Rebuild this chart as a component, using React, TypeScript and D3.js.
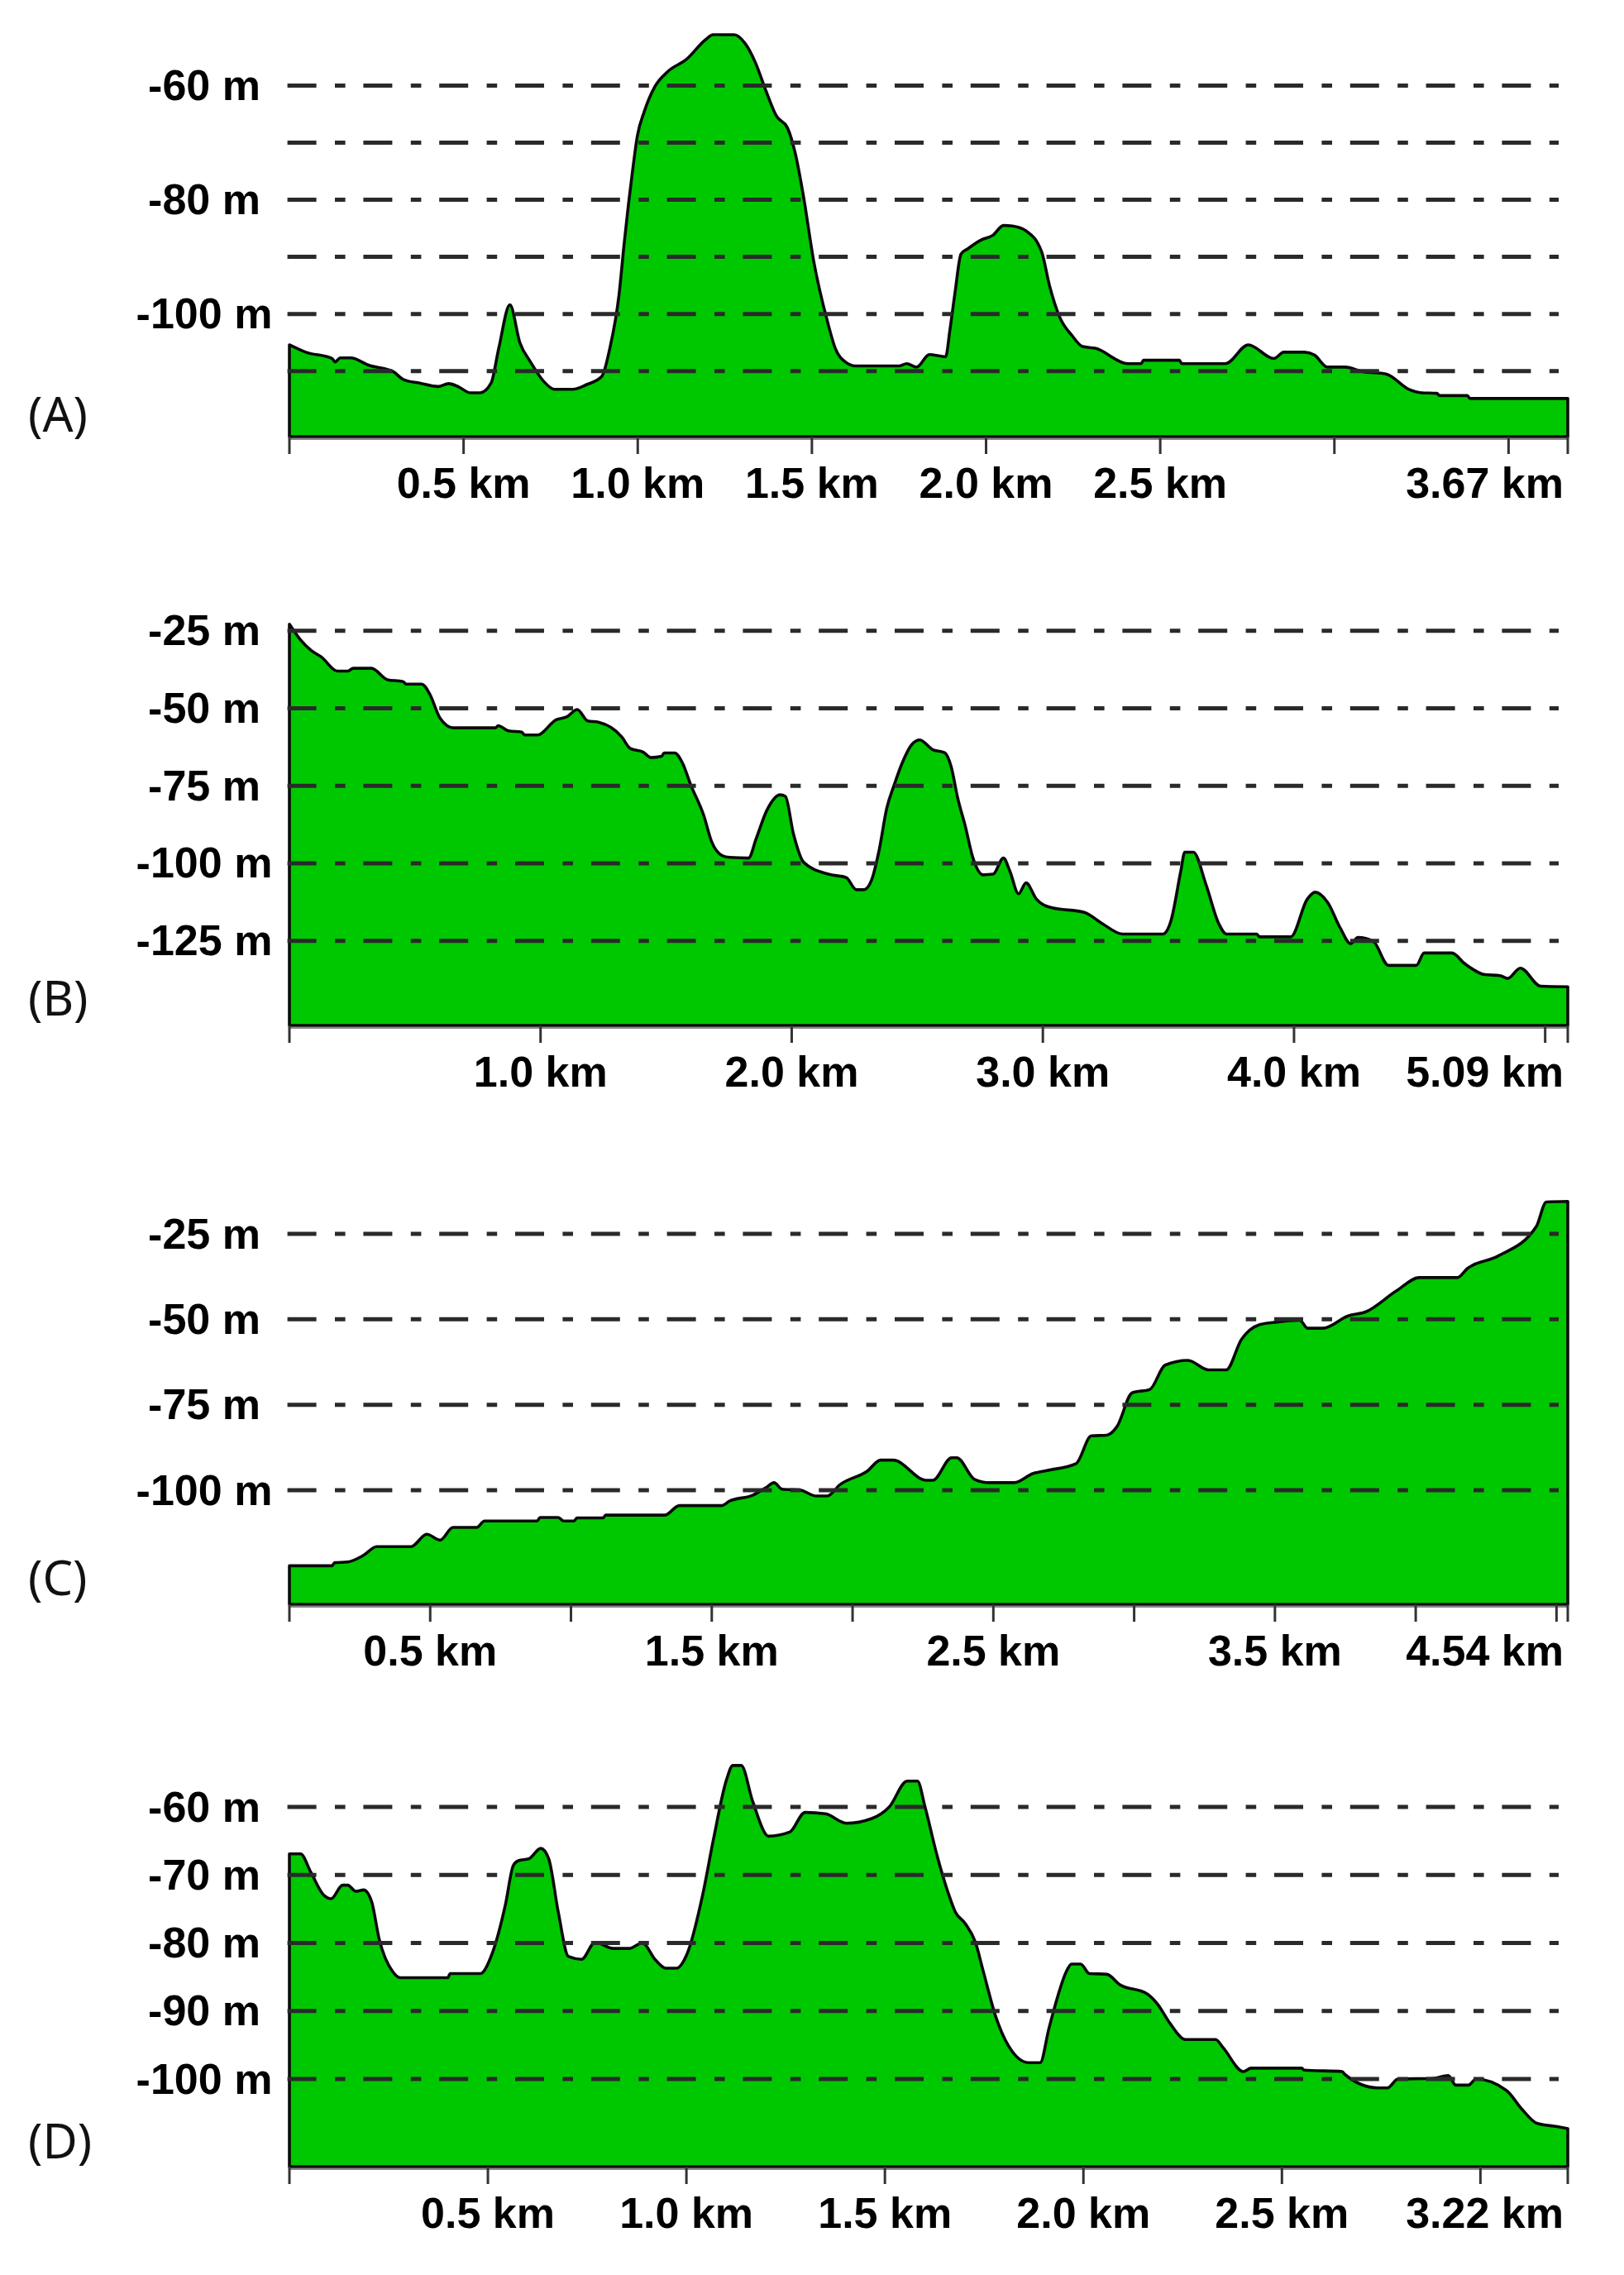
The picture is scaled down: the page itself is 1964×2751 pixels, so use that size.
import React from "react";
import * as d3 from "d3";

const aKm = [0,.047,.123,.131,.146,.176,.229,.298,.328,.374,.427,.457,.487,.518,.548,.579,.601,.633,.662,.692,.730,.761,.814,.852,.897,.920,.946,.961,.973,.984,.999,1.019,1.049,1.087,1.140,1.194,1.216,1.277,1.308,1.338,1.368,1.399,1.429,1.452,1.475,1.505,1.545,1.567,1.596,1.625,1.750,1.772,1.801,1.837,1.884,1.896,1.911,1.928,1.947,1.984,2.020,2.050,2.075,2.116,2.160,2.182,2.211,2.247,2.277,2.313,2.408,2.445,2.452,2.555,2.562,2.687,2.753,2.826,2.855,2.914,2.943,2.980,3.031,3.082,3.148,3.214,3.250,3.294,3.302,3.382,3.389,3.67];
const aElev = [-105.4,-106.7,-107.8,-108.4,-107.7,-107.7,-109,-110.1,-111.5,-112.1,-112.7,-112.2,-112.8,-113.8,-113.8,-112.1,-106,-98.4,-105.1,-108.4,-111.8,-113.2,-113.2,-112.4,-110.9,-106,-96.8,-87.7,-81,-75.5,-68.8,-64.5,-60.2,-57.5,-55.4,-52,-51.1,-51.1,-52.6,-56,-60.9,-65.4,-67.3,-71.8,-79.1,-90.7,-101.4,-106,-108.4,-109.1,-109.1,-108.7,-109.3,-107.1,-107.5,-102.9,-96.2,-89.5,-88.6,-87.1,-86.2,-84.5,-84.6,-85.5,-89.2,-95,-100.5,-103.8,-105.7,-106,-108.7,-108.7,-108.1,-108.1,-108.7,-108.7,-105.4,-107.8,-106.7,-106.7,-107.2,-109.3,-109.3,-110.1,-110.5,-113.2,-113.8,-113.9,-114.3,-114.3,-114.8,-114.8];

const bKm = [0,.044,.086,.128,.191,.233,.254,.327,.390,.453,.464,.527,.558,.600,.653,.821,.831,.873,.925,.936,.988,1.062,1.104,1.146,1.188,1.230,1.324,1.356,1.408,1.440,1.482,1.492,1.534,1.566,1.597,1.650,1.681,1.723,1.754,1.828,1.859,1.901,1.954,1.975,2.006,2.048,2.146,2.217,2.257,2.288,2.318,2.348,2.378,2.409,2.439,2.479,2.510,2.560,2.610,2.635,2.661,2.691,2.721,2.762,2.802,2.843,2.869,2.903,2.933,2.974,3.034,3.165,3.236,3.317,3.478,3.509,3.549,3.565,3.599,3.650,3.700,3.731,3.852,3.862,3.987,4.053,4.084,4.134,4.185,4.225,4.255,4.316,4.376,4.487,4.518,4.629,4.679,4.760,4.820,4.851,4.901,4.982,5.09];
const bElev = [-22.9,-27.9,-31.3,-33.5,-38,-38,-37.1,-37.1,-40.8,-41.4,-42.2,-42.2,-45.3,-53.2,-56.3,-56.3,-55.6,-57.3,-57.7,-58.6,-58.6,-53.7,-52.8,-50.4,-54.1,-54.5,-59.3,-62.9,-64.1,-65.9,-65.5,-64.4,-64.4,-67.8,-74.5,-84.6,-93,-97.5,-98.1,-98.3,-91.9,-82.9,-77.9,-78.4,-90.2,-99.7,-103.5,-104.6,-108.5,-108.5,-105.4,-95.8,-82.4,-74.5,-67.8,-61.6,-60.2,-63.3,-64.4,-68.9,-79,-88,-98.1,-103.7,-103.5,-98.3,-102.6,-109.8,-106.3,-111.5,-114.3,-115.8,-119.4,-122.8,-122.8,-118.8,-102.6,-96.4,-96.4,-107,-119.4,-122.8,-122.8,-123.7,-123.7,-111.5,-109.3,-112.6,-121,-125.9,-123.9,-125.2,-132.9,-132.9,-128.9,-128.9,-132.3,-135.9,-136.2,-137.1,-133.8,-139.6,-139.8];

const cKm = [0,.151,.161,.207,.264,.310,.432,.488,.535,.581,.665,.693,.880,.890,.955,.974,1.011,1.021,1.114,1.123,1.333,1.385,1.535,1.563,1.647,1.693,1.721,1.750,1.815,1.871,1.910,1.955,2.054,2.099,2.144,2.262,2.285,2.352,2.370,2.433,2.487,2.574,2.641,2.686,2.794,2.848,2.903,2.939,2.993,3.056,3.110,3.191,3.264,3.327,3.381,3.444,3.507,3.588,3.616,3.670,3.760,3.823,3.931,4.013,4.148,4.184,4.292,4.428,4.464,4.54];
const cElev = [-122.1,-122.1,-121.2,-121,-119,-116.5,-116.5,-112.9,-114.6,-110.9,-110.9,-109,-109,-108,-108,-109,-109,-108.1,-108.1,-107.3,-107.3,-104.5,-104.5,-103.2,-101.4,-99.2,-97.8,-99.7,-100,-101.7,-101.7,-98.4,-94.3,-91.2,-91.2,-97.1,-97.1,-90.5,-90.5,-96.8,-97.8,-97.8,-95.1,-94.3,-92.2,-84.1,-83.9,-81.4,-71.5,-70.5,-63.4,-62,-64.8,-64.8,-55.9,-51.6,-50.8,-50.3,-52.6,-52.6,-49,-47.8,-41.7,-37.8,-37.8,-35.1,-31.5,-22.9,-15.7,-15.5];

const dKm = [0,.028,.054,.087,.105,.134,.147,.167,.187,.207,.226,.260,.279,.399,.405,.481,.511,.544,.564,.577,.604,.633,.653,.677,.703,.736,.770,.816,.856,.889,.922,.948,.975,1.001,1.041,1.068,1.101,1.117,1.138,1.167,1.207,1.260,1.299,1.350,1.403,1.467,1.511,1.556,1.582,1.601,1.632,1.658,1.677,1.703,1.728,1.747,1.779,1.811,1.862,1.891,1.913,1.932,1.957,1.970,1.993,2.015,2.059,2.091,2.161,2.187,2.218,2.257,2.333,2.352,2.403,2.422,2.550,2.556,2.652,2.658,2.741,2.766,2.792,2.881,2.919,2.938,2.970,2.989,3.066,3.104,3.142,3.193,3.22];
const dElev = [-66.9,-66.9,-69.6,-73,-73.5,-71.5,-71.5,-72.4,-72.2,-73.9,-79.4,-84.2,-85.1,-85.1,-84.5,-84.5,-81.5,-74.4,-68.6,-67.9,-67.6,-66.1,-67.6,-75.4,-82,-82.4,-79.9,-80.8,-80.8,-80,-82.5,-83.7,-83.7,-81.7,-72.9,-64.8,-56,-53.9,-53.9,-59.2,-64.3,-63.7,-60.8,-61,-62.4,-61.7,-60,-56.2,-56.2,-60,-67.3,-72.4,-75.4,-77.2,-79.9,-84,-90.8,-95.1,-97.6,-97.6,-92.6,-88.5,-84.2,-83.1,-83.1,-84.5,-84.6,-86.1,-87.5,-89,-91.8,-94.2,-94.2,-95.4,-98.9,-98.4,-98.4,-98.7,-98.9,-99.3,-101.3,-101.3,-100,-99.9,-99.5,-100.9,-100.9,-100,-101.7,-104.4,-106.5,-107,-107.3];

const aGrid = [-60,-70,-80,-90,-100,-110];
const aGridLabels = ["-60 m","","-80 m","","-100 m",""];
const bGrid = [-25,-50,-75,-100,-125];
const bGridLabels = ["-25 m","-50 m","-75 m","-100 m","-125 m"];
const cGrid = [-25,-50,-75,-100];
const cGridLabels = ["-25 m","-50 m","-75 m","-100 m"];
const dGrid = [-60,-70,-80,-90,-100];
const dGridLabels = ["-60 m","-70 m","-80 m","-90 m","-100 m"];

const aTicks = [0,.5,1,1.5,2,2.5,3,3.5,3.67];
const aTickLabels = ["","0.5 km","1.0 km","1.5 km","2.0 km","2.5 km","","","3.67 km"];
const bTicks = [0,1,2,3,4,5,5.09];
const bTickLabels = ["","1.0 km","2.0 km","3.0 km","4.0 km","","5.09 km"];
const cTicks = [0,.5,1,1.5,2,2.5,3,3.5,4,4.5,4.54];
const cTickLabels = ["","0.5 km","","1.5 km","","2.5 km","","3.5 km","","","4.54 km"];
const dTicks = [0,.5,1,1.5,2,2.5,3,3.22];
const dTickLabels = ["","0.5 km","1.0 km","1.5 km","2.0 km","2.5 km","","3.22 km"];

const W = 1964, H = 2751;
const LEFT = 350, RIGHT = 1896, GRID_L = 347.6, GRID_R = 1885;
const LABEL_FONT = "'Liberation Sans', Arial, sans-serif";

type P = {
  name: string; km: number[]; elev: number[]; grid: number[]; gridLabels: string[];
  ticks: number[]; tickLabels: string[]; maxKm: number;
  topValue: number; topY: number; botValue: number; botY: number; baseY: number; nameY: number;
};

const panels: P[] = [
  { name: "(A)", km: aKm, elev: aElev, grid: aGrid, gridLabels: aGridLabels, ticks: aTicks, tickLabels: aTickLabels, maxKm: 3.67, topValue: -60, topY: 103.5, botValue: -110, botY: 448.7, baseY: 528, nameY: 522 },
  { name: "(B)", km: bKm, elev: bElev, grid: bGrid, gridLabels: bGridLabels, ticks: bTicks, tickLabels: bTickLabels, maxKm: 5.09, topValue: -25, topY: 762.7, botValue: -125, botY: 1137.7, baseY: 1240, nameY: 1228 },
  { name: "(C)", km: cKm, elev: cElev, grid: cGrid, gridLabels: cGridLabels, ticks: cTicks, tickLabels: cTickLabels, maxKm: 4.54, topValue: -25, topY: 1492, botValue: -100, botY: 1802, baseY: 1940, nameY: 1929 },
  { name: "(D)", km: dKm, elev: dElev, grid: dGrid, gridLabels: dGridLabels, ticks: dTicks, tickLabels: dTickLabels, maxKm: 3.22, topValue: -60, topY: 2185, botValue: -100, botY: 2514, baseY: 2620, nameY: 2610 },
];

function Panel({ p }: { p: P }) {
  const x = d3.scaleLinear().domain([0, p.maxKm]).range([LEFT, RIGHT]);
  const y = d3.scaleLinear().domain([p.topValue, p.botValue]).range([p.topY, p.botY]);
  const pts = p.km.map((k, i) => [k, p.elev[i]] as [number, number]);
  const area = d3.area<[number, number]>().x(d => x(d[0])).y0(p.baseY).y1(d => y(d[1])).curve(d3.curveMonotoneX);
  return (
    <g>
      <path d={area(pts) ?? ""} fill="#00C800" stroke="#0a0a0a" strokeWidth={3.6} strokeLinejoin="round" />
      {p.grid.map((g, i) => (
        <g key={g}>
          <line x1={GRID_L} x2={GRID_R} y1={y(g)} y2={y(g)} stroke="#2a2a2a" strokeWidth={5} strokeDasharray="35 22.4 12.6 21.8" />
          {p.gridLabels[i] && (
            <text x={247} y={y(g) + 17.5} textAnchor="middle" fontFamily={LABEL_FONT} fontWeight="bold" fontSize={52} fill="#000">{p.gridLabels[i]}</text>
          )}
        </g>
      ))}
      <line x1={LEFT - 1} x2={RIGHT + 1} y1={p.baseY + 3} y2={p.baseY + 3} stroke="#8a8a8a" strokeWidth={2} />
      {p.ticks.map((t, i) => {
        const last = i === p.ticks.length - 1;
        return (
          <g key={t}>
            <line x1={x(t)} x2={x(t)} y1={p.baseY} y2={p.baseY + 21} stroke="#333" strokeWidth={3} />
            {p.tickLabels[i] && (
              <text x={last ? 1891 : x(t)} y={p.baseY + 74} textAnchor={last ? "end" : "middle"} fontFamily={LABEL_FONT} fontWeight="bold" fontSize={52} fill="#000">{p.tickLabels[i]}</text>
            )}
          </g>
        );
      })}
      <text x={34} y={p.nameY} fontFamily="'Noto Sans', 'Open Sans', sans-serif" fontSize={58} fill="#111">{p.name}</text>
    </g>
  );
}

export default function App() {
  return (
    <svg width={W} height={H} viewBox={`0 0 ${W} ${H}`} style={{ position: "absolute", left: 0, top: 0, background: "#fff" }}>
      {panels.map(p => <Panel key={p.name} p={p} />)}
    </svg>
  );
}
